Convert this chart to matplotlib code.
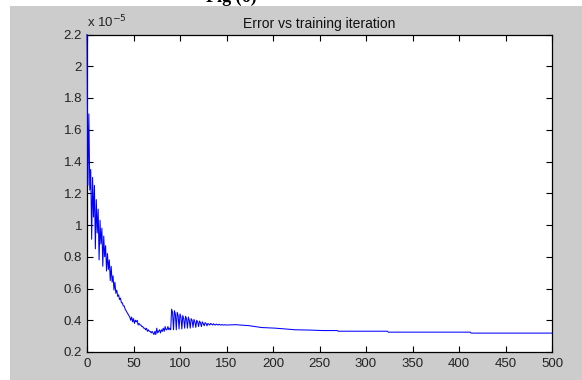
import matplotlib.pyplot as plt
import numpy as np
from matplotlib.patches import Rectangle

# training error per iteration, in units of 1e-5
err_head = [
    2.20, 1.25, 1.70, 1.22, 1.35, 0.91, 1.30, 1.05, 1.25, 0.85,
    1.16, 0.95, 1.10, 0.78, 1.03, 0.88, 0.98, 0.74, 0.93, 0.80,
    0.87, 0.71, 0.82, 0.72, 0.78, 0.65, 0.74, 0.64, 0.68, 0.59,
    0.64, 0.57, 0.59, 0.55, 0.56, 0.53, 0.54, 0.51, 0.51, 0.49,
    0.49, 0.47, 0.46, 0.45, 0.44, 0.43, 0.42, 0.40, 0.42, 0.39,
    0.41, 0.38, 0.40, 0.39, 0.40, 0.37, 0.38, 0.37, 0.37, 0.36,
    0.36, 0.35, 0.35, 0.34, 0.35, 0.33, 0.34, 0.33, 0.33, 0.32,
    0.33, 0.32, 0.31, 0.33, 0.31, 0.35, 0.32, 0.33, 0.34, 0.32,
    0.34, 0.33, 0.35, 0.33, 0.36, 0.34, 0.34, 0.36, 0.34, 0.35,
    0.34, 0.47, 0.45, 0.34, 0.46, 0.44, 0.34, 0.45, 0.43, 0.345,
    0.44, 0.42, 0.345, 0.43, 0.41, 0.35, 0.425, 0.41, 0.35, 0.42,
    0.40, 0.35, 0.41, 0.40, 0.355, 0.405, 0.39, 0.355, 0.40, 0.39,
    0.36, 0.395, 0.385, 0.36, 0.39, 0.38, 0.365, 0.385, 0.38, 0.365,
    0.38, 0.375, 0.37, 0.38, 0.375, 0.37, 0.378, 0.372, 0.37, 0.376,
    0.372, 0.37, 0.375, 0.371, 0.37, 0.373, 0.37, 0.37, 0.372, 0.37,
]
# after ~150 iterations the error only creeps down, so fewer samples
tail_iter = [150, 160, 174, 188, 203, 224, 240, 254, 269, 270, 323, 324, 412, 413, 500]
tail_err = [0.37, 0.372, 0.366, 0.354, 0.35, 0.34, 0.338, 0.335, 0.335, 0.331,
            0.331, 0.325, 0.325, 0.319, 0.319]

x_ticks = [0, 50, 100, 150, 200, 250, 300, 350, 400, 450, 500]
y_ticks = [0.2, 0.4, 0.6, 0.8, 1.0, 1.2, 1.4, 1.6, 1.8, 2.0, 2.2]
y_labels = ["0.2", "0.4", "0.6", "0.8", "1", "1.2", "1.4", "1.6", "1.8", "2", "2.2"]

iters = list(range(len(err_head))) + tail_iter
err = err_head + tail_err

plt.rcParams['font.family'] = ['Liberation Sans', 'DejaVu Sans']

fig = plt.figure(figsize=(5.82, 3.80), dpi=100, facecolor="white")
bg = Rectangle((10 / 582, 0), 1, (380 - 6) / 380, transform=fig.transFigure,
               facecolor="#cccccc", edgecolor="none", zorder=-10)
fig.add_artist(bg)

# caption line of the page, mostly cut off by the top edge
fig.text(206 / 582, 1 - 2 / 380, "Fig (6)", family="Liberation Serif",
         fontweight="bold", fontsize=13, ha="left", va="baseline")

ax = fig.add_axes([87 / 582, 28 / 380, 465 / 582, 317.5 / 380])
ax.set_zorder(5)
# line sits above the spines so the first drop shows on the left edge
ax.plot(iters, err, color="#0000ff", lw=0.75, zorder=3, clip_on=False)

ax.set_xlim(0, 500)
ax.set_ylim(0.2, 2.2)
ax.set_xticks(x_ticks)
ax.set_yticks(y_ticks)
ax.set_yticklabels(y_labels)
ax.tick_params(direction="in", top=True, right=True, length=4, width=0.8,
               labelsize=9.5, colors="black", labelcolor="#222222")
ax.tick_params(axis="x", pad=4)
ax.tick_params(axis="y", pad=3.5)
for sp in ax.spines.values():
    sp.set_linewidth(0.9)

ax.set_title("Error vs training iteration", fontsize=10, pad=5, color="#111111")
ax.text(0.0, 1.012, r"x 10$^{-5}$", transform=ax.transAxes, fontsize=9.5,
        color="#222222", ha="left", va="bottom")

fig.savefig("out.png", dpi=100, facecolor=fig.get_facecolor())
